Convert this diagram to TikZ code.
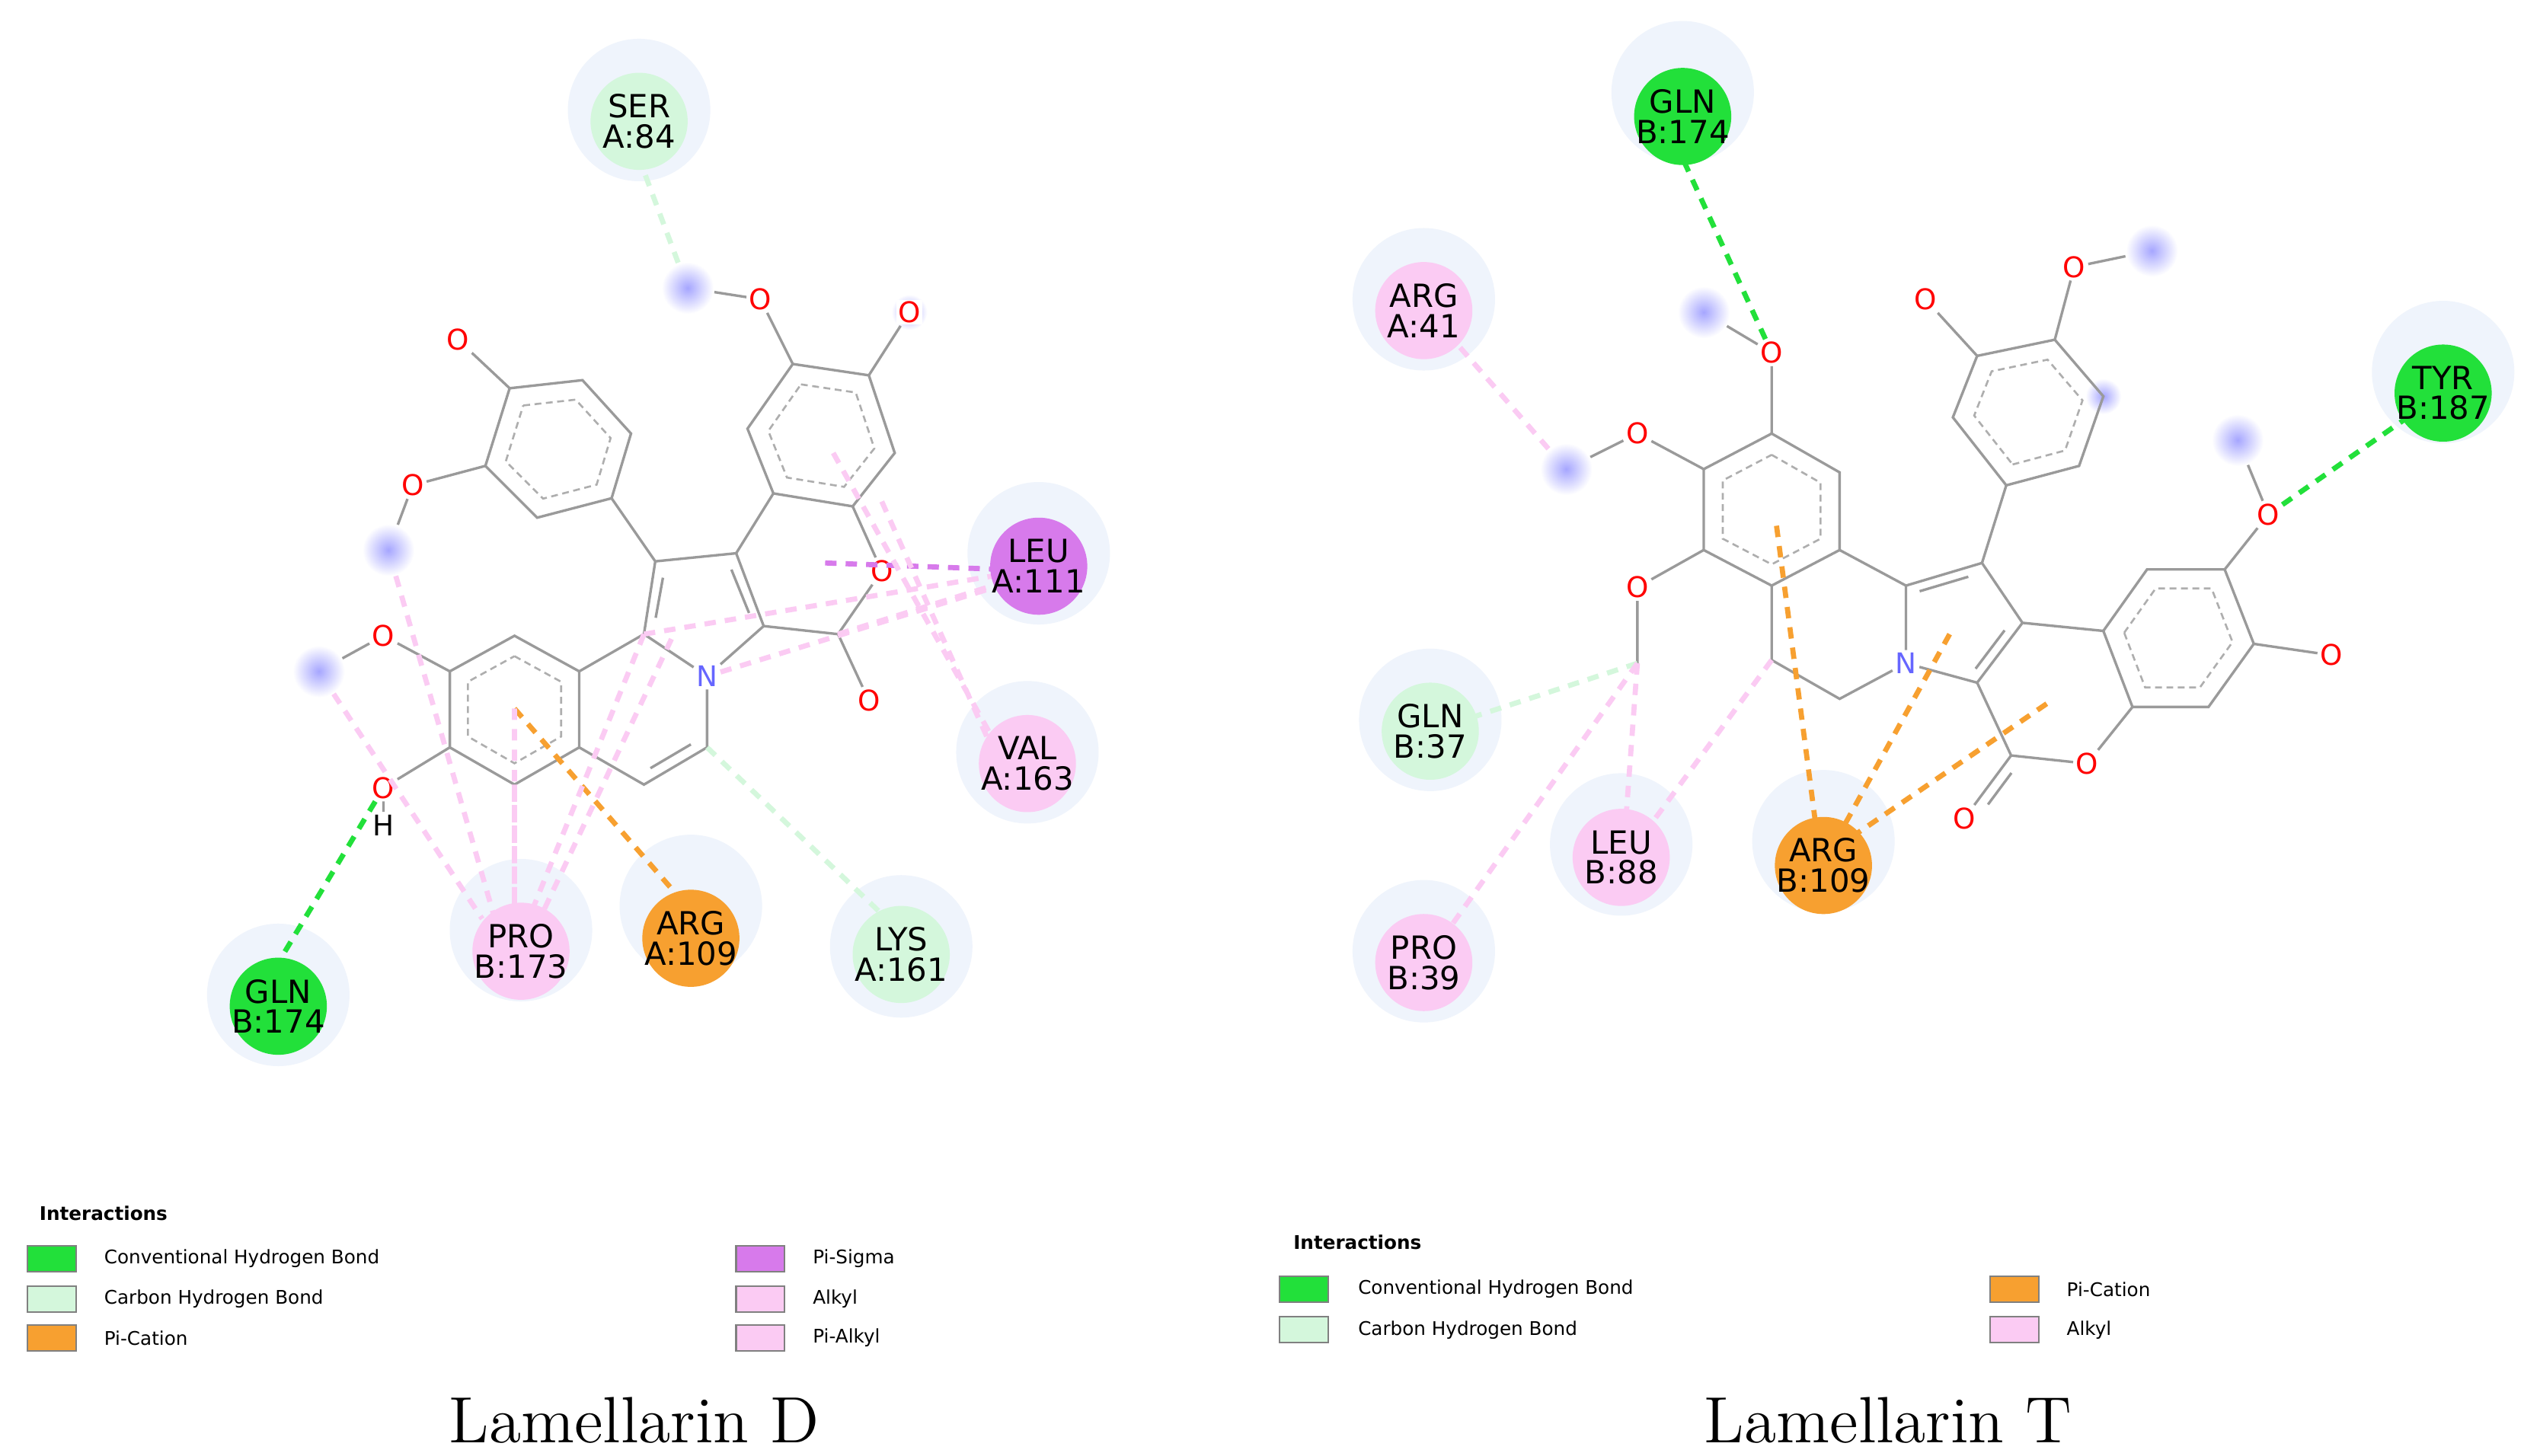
\documentclass[tikz,border=0pt]{standalone}
\usepackage{fontspec}
\setsansfont{DejaVu Sans}
\usetikzlibrary{calc}
\definecolor{halo}{HTML}{EFF4FC}
\definecolor{chb}{HTML}{D4F7DC}
\definecolor{cvh}{HTML}{22E03A}
\definecolor{pic}{HTML}{F7A030}
\definecolor{alk}{HTML}{FBCBF3}
\definecolor{psig}{HTML}{D77AEB}
\definecolor{bond}{HTML}{9A9A9A}
\tikzset{
 haloc/.style={circle,fill=halo,minimum size=0.88cm,inner sep=0},
 res/.style={circle,minimum size=0.6cm,inner sep=-1pt,align=center,font=\sffamily\fontsize{5.6}{5.3}\selectfont},
 ox/.style={inner sep=0.3pt,text=red,font=\sffamily\fontsize{5}{5}\selectfont,fill=white},
 nx/.style={inner sep=0.3pt,text=blue!60,font=\sffamily\fontsize{5}{5}\selectfont,fill=white},
 bd/.style={draw=bond,line width=0.45pt},
 ar/.style={draw=bond!80,line width=0.35pt,dash pattern=on 1.2pt off 0.8pt},
 meth/.style={circle,inner sep=0,minimum size=0.32cm,inner color=blue!35,outer color=white},
 ia/.style={line width=0.9pt,dash pattern=on 2pt off 1.6pt},
 leg/.style={font=\sffamily\fontsize{3.3}{4}\selectfont,anchor=west},
 sw/.style={draw=gray,line width=0.3pt,minimum width=0.3cm,minimum height=0.16cm,inner sep=0},
 ttl/.style={font=\fontsize{11.5}{13}\selectfont}
}
\newcommand{\myring}[7]{%
 \draw[bd] (#1)--(#2)--(#3)--(#4)--(#5)--(#6)--cycle;
 \draw[ar] ($(#7)!0.72!(#1)$)--($(#7)!0.72!(#2)$)--($(#7)!0.72!(#3)$)--($(#7)!0.72!(#4)$)--($(#7)!0.72!(#5)$)--($(#7)!0.72!(#6)$)--cycle;}
\begin{document}
\begin{tikzpicture}[x=0.01cm,y=-0.01cm]
\useasboundingbox (0,0) rectangle (1560,900);
\fill[white] (0,0) rectangle (1560,900);
%%%%%%%%%%%%%%% LEFT
\foreach \a/\b in {395/68,172/615,322/575,427/560,557/585,635/465,642/342} \node[haloc] at (\a,\b) {};
\node[meth] (m1) at (425,178) {};
\node[meth] (m2) at (240,340) {};
\node[meth] (m3) at (197,415) {};
\node[meth,minimum size=0.22cm] (m4) at (562,193) {};
\foreach \nm/\a/\b in {a1/490/225,a2/537/232,a3/553/280,a4/527/313,a5/478/305,a6/462/265,ac/508/270,
 p1/405/347,p2/455/342,p3/472/387,p5/398/392,lc/518/392,
 b1/315/240,b2/360/235,b3/390/268,b4/378/308,b5/332/320,b6/300/288,bc/345/278,
 c1/318/393,c2/358/415,c3/358/462,c4/318/485,c5/278/462,c6/278/415,cc/318/438,
 d1/437/462,d2/398/485} \coordinate (\nm) at (\a,\b);
\node[ox] (o1) at (470,185) {O};
\node[ox] (o2) at (562,193) {O};
\node[ox] (o3) at (545,353) {O};
\node[ox] (o4) at (537,433) {O};
\node[ox] (o5) at (283,210) {O};
\node[ox] (o6) at (255,300) {O};
\node[ox] (o7) at (237,393) {O};
\node[ox] (o8) at (237,487) {O};
\node[font=\sffamily\fontsize{5}{5}\selectfont,inner sep=0.3pt] (h8) at (237,510) {H};
\node[nx] (n1) at (437,418) {N};
\myring{a1}{a2}{a3}{a4}{a5}{a6}{ac}
\myring{b1}{b2}{b3}{b4}{b5}{b6}{bc}
\myring{c1}{c2}{c3}{c4}{c5}{c6}{cc}
\draw[bd] (m1)--(o1)--(a1) (a2)--(o2) (a4)--(o3)--(lc)--(p3) (lc)--(o4)
 (p1)--(p2)--(p3)--(n1)--(p5)--(p1) (a5)--(p2) (b4)--(p1) (b1)--(o5) (b6)--(o6)--(m2)
 (p5)--(c2) (n1)--(d1)--(d2)--(c3) (c6)--(o7)--(m3) (c5)--(o8)--(h8);
\draw[bd] ($(p1)!0.18!(p5)+(6,2)$)--($(p5)!0.18!(p1)+(6,-2)$);
\draw[bd] ($(p2)!0.18!(p3)+(-6,2)$)--($(p3)!0.18!(p2)+(-6,0)$);
\draw[bd] ($(d1)!0.18!(d2)+(-3,-6)$)--($(d2)!0.18!(d1)+(-3,-6)$);
\draw[ia,draw=chb] (m1)--(395,98);
\draw[ia,draw=cvh] (o8)--(172,595);
\draw[ia,draw=pic] (cc)--(420,555);
\draw[ia,draw=chb] (d1)--(545,565);
\draw[ia,draw=psig] (510,348)--(620,352);
\draw[ia,draw=alk] (m2)--(305,565) (m3)--(298,568) (cc)--(318,562) (c4)--(318,562) (p5)--(330,560) (415,395)--(335,565)
 (p5)--(620,355) (n1)--(618,362) (lc)--(620,360) (515,280)--(620,468) (545,310)--(612,460);
\node[res,fill=chb] (ser) at (395,75) {SER\\A:84};
\node[res,fill=cvh] (gln1) at (172,622) {GLN\\B:174};
\node[res,fill=alk] (pro1) at (322,588) {PRO\\B:173};
\node[res,fill=pic] (arg1) at (427,580) {ARG\\A:109};
\node[res,fill=chb] (lys) at (557,590) {LYS\\A:161};
\node[res,fill=alk] (val) at (635,472) {VAL\\A:163};
\node[res,fill=psig] (leu1) at (642,350) {LEU\\A:111};
%%%%%%%%%%%%%%% RIGHT
\foreach \a/\b in {1040/57,880/185,1510/230,884/445,1002/522,880/588,1127/520} \node[haloc] at (\a,\b) {};
\node[meth] (r1) at (1053,193) {};
\node[meth] (r2) at (968,290) {};
\node[meth] (r3) at (1330,155) {};
\node[meth] (r4) at (1383,272) {};
\node[meth,minimum size=0.22cm] (r5) at (1300,245) {};
\foreach \nm/\a/\b in {e1/1095/268,e2/1137/292,e3/1137/340,e4/1095/362,e5/1053/340,e6/1053/290,ec/1095/315,
 e7/1095/408,e8/1137/432,q1/1178/362,q2/1225/348,q3/1250/385,q4/1222/422,
 f1/1240/300,f2/1285/288,f3/1300/245,f4/1270/210,f5/1222/220,f6/1207/258,fc/1254/254,
 g1/1300/390,g2/1327/352,g3/1375/352,g4/1393/398,g5/1365/437,g6/1318/437,gc/1346/394,
 lt/1243/467,mm/1012/410} \coordinate (\nm) at (\a,\b);
\node[ox] (s1) at (1095,218) {O};
\node[ox] (s2) at (1012,268) {O};
\node[ox] (s3) at (1012,363) {O};
\node[ox] (s4) at (1190,185) {O};
\node[ox] (s5) at (1282,165) {O};
\node[ox] (s6) at (1402,318) {O};
\node[ox] (s7) at (1441,405) {O};
\node[ox] (s8) at (1214,506) {O};
\node[ox] (s9) at (1290,472) {O};
\node[nx] (n2) at (1178,410) {N};
\myring{e1}{e2}{e3}{e4}{e5}{e6}{ec}
\myring{f1}{f2}{f3}{f4}{f5}{f6}{fc}
\myring{g1}{g2}{g3}{g4}{g5}{g6}{gc}
\draw[bd] (r1)--(s1)--(e1) (e6)--(s2)--(r2) (e5)--(s3)--(mm) (e4)--(e7)--(e8)--(n2)
 (e3)--(q1)--(q2)--(q3)--(q4)--(n2)--(q1) (q2)--(f1) (f5)--(s4) (f4)--(s5)--(r3)
 (q3)--(g1) (g3)--(s6)--(r4) (g4)--(s7) (q4)--(lt)--(s8) (lt)--(s9)--(g6);
\draw[bd] ($(q1)!0.18!(q2)+(0,6)$)--($(q2)!0.18!(q1)+(0,6)$);
\draw[bd] ($(q3)!0.18!(q4)+(-6,-2)$)--($(q4)!0.18!(q3)+(-6,-2)$);
\draw[bd] ($(lt)!0.2!(s8)+(6,3)$)--($(s8)!0.3!(lt)+(6,3)$);
\draw[ia,draw=cvh] (s1)--(1040,98);
\draw[ia,draw=cvh] (s6)--(1488,258);
\draw[ia,draw=alk] (r2)--(900,212);
\draw[ia,draw=chb] (mm)--(905,445);
\draw[ia,draw=alk] (mm)--(1005,505) (e7)--(1020,510) (mm)--(895,575);
\draw[ia,draw=pic] (1098,325)--(1122,508) (1205,392)--(1140,510) (1265,435)--(1148,515);
\node[res,fill=cvh] (gln2) at (1040,72) {GLN\\B:174};
\node[res,fill=alk] (arg2) at (880,192) {ARG\\A:41};
\node[res,fill=cvh] (tyr) at (1510,243) {TYR\\B:187};
\node[res,fill=chb] (gln3) at (884,452) {GLN\\B:37};
\node[res,fill=alk] (leu2) at (1002,530) {LEU\\B:88};
\node[res,fill=alk] (pro2) at (880,595) {PRO\\B:39};
\node[res,fill=pic] (arg3) at (1127,535) {ARG\\B:109};
%%%%%%%%%%%%%%% LEGENDS
\node[leg,font=\sffamily\bfseries\fontsize{3.3}{4}\selectfont] (li) at (12,750) {Interactions};
\node[sw,fill=cvh] (s1a) at (32,778) {}; \node[leg] (l1a) at (52,778) {Conventional Hydrogen Bond};
\node[sw,fill=chb] (s1b) at (32,803) {}; \node[leg] (l1b) at (52,803) {Carbon Hydrogen Bond};
\node[sw,fill=pic] (s1c) at (32,827) {}; \node[leg] (l1c) at (52,827) {Pi-Cation};
\node[sw,fill=psig] (s1d) at (470,778) {}; \node[leg] (l1d) at (490,778) {Pi-Sigma};
\node[sw,fill=alk] (s1e) at (470,803) {}; \node[leg] (l1e) at (490,803) {Alkyl};
\node[sw,fill=alk] (s1f) at (470,827) {}; \node[leg] (l1f) at (490,827) {Pi-Alkyl};
\node[leg,font=\sffamily\bfseries\fontsize{3.3}{4}\selectfont] (ri) at (787,768) {Interactions};
\node[sw,fill=cvh] (s2a) at (806,797) {}; \node[leg] (l2a) at (827,797) {Conventional Hydrogen Bond};
\node[sw,fill=chb] (s2b) at (806,822) {}; \node[leg] (l2b) at (827,822) {Carbon Hydrogen Bond};
\node[sw,fill=pic] (s2c) at (1245,797) {}; \node[leg] (l2c) at (1265,797) {Pi-Cation};
\node[sw,fill=alk] (s2d) at (1245,822) {}; \node[leg] (l2d) at (1265,822) {Alkyl};
\node[ttl] (t1) at (392,878) {Lamellarin D};
\node[ttl] (t2) at (1167,878) {Lamellarin T};
\end{tikzpicture}
\end{document}
